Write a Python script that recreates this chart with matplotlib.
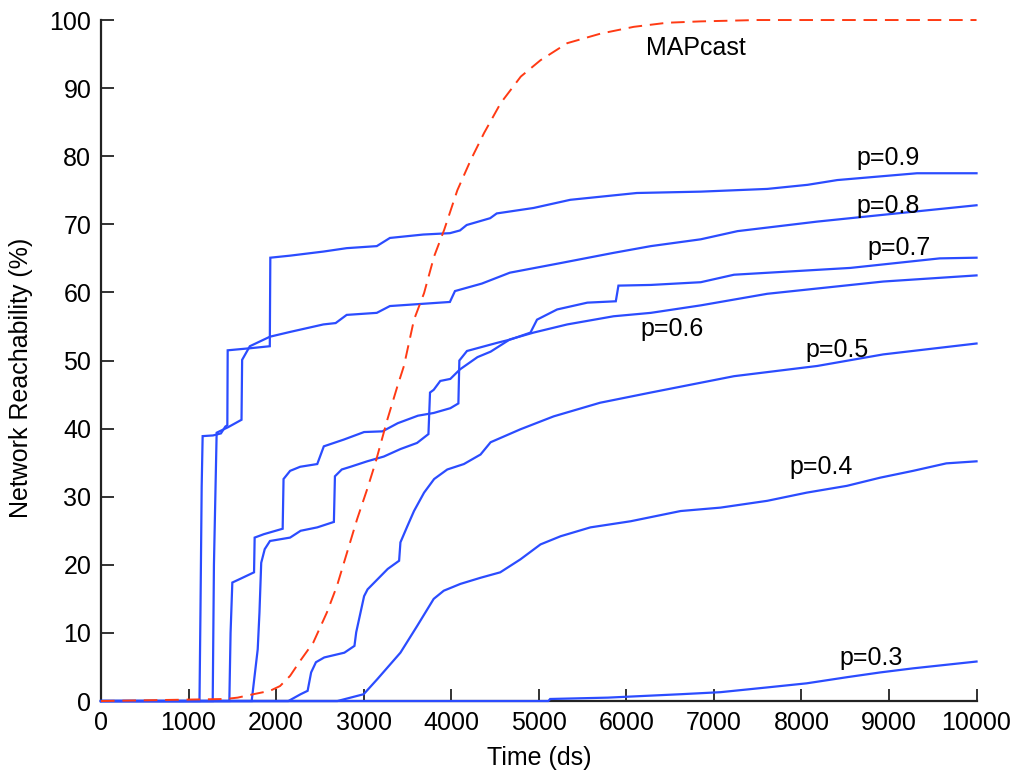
import matplotlib
matplotlib.use("Agg")
import matplotlib.pyplot as plt

# ---------------- data ----------------
t_p09 = [0, 1125, 1136, 1150, 1161, 1280, 1370, 1420, 1443, 1447, 1700, 1928, 1934, 2160, 2540, 2806,
         3150, 3300, 3680, 3985, 4100, 4177, 4445, 4520, 4940, 5360, 6120, 6850, 7610, 8070, 8410, 9320, 10000]
v_p09 = [0, 0, 13, 31.5, 38.9, 39.0, 39.3, 40.3, 40.5, 51.5, 51.8, 52.1, 65.1, 65.4, 66.0, 66.5,
         66.8, 68.0, 68.5, 68.7, 69.1, 69.9, 70.9, 71.6, 72.4, 73.6, 74.6, 74.8, 75.2, 75.8, 76.5, 77.5, 77.5]

t_p08 = [0, 1276, 1290, 1321, 1450, 1605, 1612, 1700, 1930, 2160, 2540, 2680, 2806, 3150, 3300, 3985,
         4043, 4350, 4670, 5245, 5850, 6280, 6850, 7270, 8180, 8935, 10000]
v_p08 = [0, 0, 20, 39.4, 40.2, 41.3, 50.1, 52.1, 53.5, 54.2, 55.3, 55.5, 56.7, 57.0, 58.0, 58.6,
         60.2, 61.3, 62.9, 64.3, 65.8, 66.8, 67.8, 69.0, 70.4, 71.4, 72.8]

t_p07 = [0, 1466, 1480, 1500, 1600, 1748, 1755, 1860, 2075, 2085, 2160, 2275, 2470, 2545, 2775, 3005,
         3215, 3390, 3620, 3800, 3990, 4082, 4093, 4180, 4525, 4680, 4905, 4980, 5210, 5555, 5880,
         5910, 6280, 6850, 7230, 8560, 9580, 10000]
v_p07 = [0, 0, 10, 17.4, 18.0, 18.9, 24.0, 24.5, 25.3, 32.6, 33.8, 34.4, 34.8, 37.4, 38.4, 39.5,
         39.6, 40.8, 41.9, 42.3, 43.0, 43.7, 50.0, 51.4, 52.6, 53.1, 54.1, 56.0, 57.5, 58.5, 58.7,
         61.0, 61.1, 61.5, 62.6, 63.6, 65.0, 65.1]

t_p06 = [0, 1721, 1790, 1810, 1830, 1870, 1930, 2160, 2280, 2470, 2660, 2672, 2750, 2850, 3040, 3230,
         3420, 3610, 3740, 3758, 3800, 3875, 3990, 4100, 4300, 4450, 4670, 4940, 5325, 5855, 6280,
         6850, 7610, 8935, 10000]
v_p06 = [0, 0, 7.6, 13.0, 20.3, 22.3, 23.5, 24.0, 25.0, 25.5, 26.3, 33.0, 34.0, 34.4, 35.2, 35.9,
         37.0, 37.9, 39.2, 45.3, 45.7, 47.0, 47.3, 48.7, 50.5, 51.3, 53.1, 54.1, 55.3, 56.5, 57.0,
         58.1, 59.8, 61.6, 62.5]

t_p05 = [0, 2140, 2280, 2360, 2400, 2455, 2550, 2780, 2895, 2915, 3005, 3045, 3275, 3405, 3420, 3500,
         3575, 3690, 3805, 3955, 4145, 4335, 4450, 4790, 5170, 5700, 6280, 7230, 8180, 8935, 10000]
v_p05 = [0, 0, 1.0, 1.5, 4.2, 5.7, 6.4, 7.1, 8.1, 10.1, 15.4, 16.4, 19.4, 20.6, 23.3, 25.7,
         27.9, 30.6, 32.6, 34.0, 34.8, 36.2, 38.0, 39.9, 41.8, 43.8, 45.3, 47.7, 49.2, 50.9, 52.5]

t_p04 = [0, 2700, 2790, 3000, 3155, 3420, 3610, 3800, 3915, 4105, 4335, 4560, 4790, 5020, 5250, 5590,
         6050, 6620, 7075, 7610, 8060, 8520, 8900, 9275, 9655, 10000]
v_p04 = [0, 0, 0.3, 1.0, 3.2, 7.1, 11.0, 15.0, 16.2, 17.2, 18.1, 18.9, 20.8, 23.0, 24.2, 25.5,
         26.4, 27.9, 28.4, 29.4, 30.6, 31.6, 32.8, 33.8, 34.9, 35.2]

t_p03 = [0, 5110, 5130, 5790, 6620, 7075, 7610, 8060, 8520, 8900, 9275, 10000]
v_p03 = [0, 0, 0.3, 0.5, 1.0, 1.3, 2.0, 2.6, 3.5, 4.2, 4.8, 5.8]

t_map = [0, 1420, 1560, 1740, 1930, 2045, 2160, 2275, 2425, 2580, 2695, 2810, 2925, 3040, 3135, 3270,
         3385, 3460, 3575, 3690, 3805, 3920, 4070, 4225, 4375, 4565, 4795, 5020, 5325, 5705, 6085,
         6465, 6850, 7500, 10000]
v_map = [0, 0.3, 0.5, 1.0, 1.5, 2.2, 3.7, 5.9, 8.6, 13.0, 16.9, 21.8, 26.7, 31.1, 35.0, 41.3,
         46.2, 49.2, 56.0, 59.9, 65.3, 69.2, 75.0, 79.5, 83.4, 87.8, 91.7, 94.1, 96.6, 98.0, 99.0,
         99.6, 99.8, 100, 100]

series_labels = ["p=0.9", "p=0.8", "p=0.7", "p=0.6", "p=0.5", "p=0.4", "p=0.3", "MAPcast"]
label_x = [8990, 8985, 9115, 6520, 8410, 8220, 8800, 6790]
label_y = [79.7, 72.7, 66.5, 54.7, 51.6, 34.4, 6.3, 95.9]

x_ticks = list(range(0, 10001, 1000))
y_ticks = list(range(0, 101, 10))

# ---------------- plotting ----------------
plt.rcParams['font.family'] = ['Liberation Sans', 'DejaVu Sans']

fig = plt.figure(figsize=(10.15, 7.73), dpi=100)
ax = fig.add_axes([0.0995, 0.0931, 0.8626, 0.881])

blue = '#2b4cff'
red = '#ff3a14'
blue_series = [(t_p09, v_p09), (t_p08, v_p08), (t_p07, v_p07), (t_p06, v_p06),
               (t_p05, v_p05), (t_p04, v_p04), (t_p03, v_p03)]
for tt, vv in blue_series:
    ax.plot(tt, vv, color=blue, lw=1.6, clip_on=False, zorder=3,
            solid_joinstyle='miter')
ax.plot(t_map, v_map, color=red, lw=1.4, dashes=(7, 4), clip_on=False, zorder=4)

for s, lx, ly in zip(series_labels, label_x, label_y):
    ax.text(lx, ly, s, ha='center', va='center', fontsize=18, color='black', zorder=5)

ax.set_xlim(0, 10000)
ax.set_ylim(0, 100)
ax.set_xticks(x_ticks)
ax.set_yticks(y_ticks)
ax.set_xticklabels([str(v) for v in x_ticks])
ax.set_yticklabels([str(v) for v in y_ticks])

for side in ('top', 'right'):
    ax.spines[side].set_visible(False)
for side in ('left', 'bottom'):
    ax.spines[side].set_linewidth(1.6)
    ax.spines[side].set_color('#222222')
    ax.spines[side].set_zorder(2)

ax.tick_params(direction='in', length=9, width=1.3, color='#222222',
               labelsize=18, pad=7)

ax.set_xlabel('Time (ds)', fontsize=18)
ax.set_ylabel('Network Reachability (%)', fontsize=18)
ax.xaxis.set_label_coords(0.5, -0.066)
ax.yaxis.set_label_coords(-0.078, 0.475)

fig.savefig('out.png', dpi=100)
